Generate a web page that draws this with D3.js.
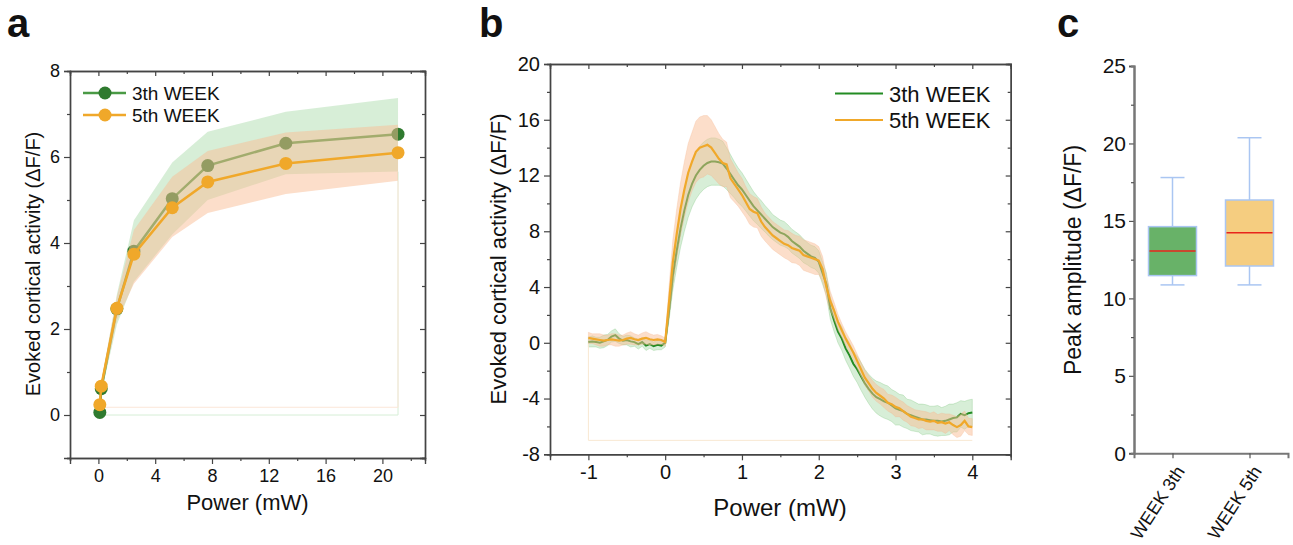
<!DOCTYPE html>
<html>
<head>
<meta charset="utf-8">
<script src="https://cdn.jsdelivr.net/npm/d3@7"></script>
<style>
body { margin: 0; background: #fff; }
svg { font-family: "Liberation Sans", Arial, sans-serif; }
</style>
</head>
<body>
<svg width="1293" height="545"></svg>
<script>
// ---------- panel a : evoked activity vs power (mean, sd band)
const powerA = [0.1, 0.2, 1.3, 2.5, 5.2, 7.7, 13.2, 21.1];
const week3A = [0.06, 0.61, 2.47, 3.81, 5.03, 5.80, 6.32, 6.53];
const week3ALow = [0.02, 0.50, 2.10, 3.10, 4.20, 5.00, 5.60, 5.66];
const week3AHigh = [0.10, 0.75, 2.80, 4.53, 5.87, 6.59, 7.05, 7.37];
const week5A = [0.24, 0.67, 2.48, 3.74, 4.82, 5.42, 5.85, 6.10];
const week5ALow = [0.18, 0.55, 2.20, 3.05, 4.14, 4.70, 5.14, 5.45];
const week5AHigh = [0.30, 0.78, 2.75, 4.30, 5.54, 6.14, 6.57, 6.75];
const baseA3 = 0, baseA5 = 0.18;   // closing edge of the filled areas

// ---------- panel b : time course (sampled every 0.05 from -1 to 4)
const timeB = d3.range(0, 101).map(i => -1 + i * 0.05);
const week3B = [
  0.05, 0.1, 0.05, 0.0, 0.1, 0.2, 0.45, 0.55, 0.3, 0.15,
  0.2, 0.1, 0.05, -0.1, 0.05, -0.2, -0.1, -0.25, -0.15, -0.2,
  0.0, 2.3, 4.8, 6.6, 8.2, 9.5, 10.6, 11.4, 12.0, 12.4,
  12.7, 12.9, 13.0, 13.0, 12.95, 12.85, 12.5, 12.1, 11.7, 11.3,
  11.0, 10.6, 10.2, 9.8, 9.5, 9.2, 8.9, 8.6, 8.3, 8.1,
  7.9, 7.8, 7.6, 7.3, 7.1, 6.9, 6.6, 6.4, 6.2, 6.1,
  5.8, 5.0, 4.2, 2.5, 1.6, 0.8, 0.3, -0.4, -0.9, -1.5,
  -1.9, -2.4, -2.9, -3.3, -3.65, -3.9, -4.05, -4.2, -4.3, -4.5,
  -4.7, -4.8, -4.9, -5.1, -5.2, -5.3, -5.4, -5.5, -5.5, -5.55,
  -5.6, -5.6, -5.65, -5.6, -5.5, -5.4, -5.35, -5.1, -5.2, -5.05,
  -5.0
];
const week3BSd = [
  0.35, 0.4, 0.35, 0.4, 0.45, 0.4, 0.4, 0.45, 0.35, 0.3,
  0.35, 0.4, 0.3, 0.35, 0.3, 0.35, 0.3, 0.3, 0.35, 0.3,
  0.3, 0.7, 1.0, 1.2, 1.35, 1.5, 1.6, 1.65, 1.7, 1.7,
  1.7, 1.7, 1.7, 1.7, 1.65, 1.6, 1.5, 1.4, 1.3, 1.25,
  1.2, 1.15, 1.1, 1.05, 1.0, 1.0, 0.95, 0.95, 0.9, 0.9,
  0.9, 0.9, 0.85, 0.85, 0.85, 0.85, 0.85, 0.8, 0.8, 0.8,
  0.8, 0.8, 0.8, 0.8, 0.8, 0.8, 0.85, 0.85, 0.9, 0.9,
  0.95, 1.0, 1.0, 1.05, 1.1, 1.15, 1.2, 1.2, 1.2, 1.15,
  1.2, 1.1, 1.15, 1.05, 1.1, 1.05, 1.0, 1.1, 1.05, 1.0,
  1.05, 1.1, 1.0, 1.05, 1.1, 1.0, 1.05, 0.95, 1.0, 0.95,
  0.95
];
const week5B = [
  0.35, 0.3, 0.25, 0.2, 0.15, 0.2, 0.25, 0.2, 0.15, 0.2,
  0.3, 0.35, 0.25, 0.2, 0.3, 0.35, 0.25, 0.2, 0.25, 0.2,
  0.05, 2.9, 5.8, 7.8, 9.6, 11.0, 12.2, 13.0, 13.7, 14.0,
  14.1, 14.2, 14.0, 13.6, 13.2, 12.9, 12.8, 11.8, 11.4, 11.0,
  10.6, 10.1, 9.6, 9.4, 9.3, 8.7, 8.3, 8.0, 7.7, 7.5,
  7.3, 7.1, 7.0, 6.8, 6.7, 6.6, 6.3, 6.2, 6.1, 6.0,
  5.9, 5.3, 4.0, 3.0, 2.3, 1.5, 0.9, 0.3, -0.2, -0.7,
  -1.3, -1.9, -2.5, -2.9, -3.3, -3.6, -3.8, -4.0, -4.3, -4.4,
  -4.6, -4.7, -4.9, -5.1, -5.3, -5.4, -5.5, -5.5, -5.6, -5.65,
  -5.6, -5.75, -5.7, -5.8, -5.7, -5.9, -6.05, -5.9, -5.6, -6.0,
  -6.05
];
const week5BSd = [
  0.4, 0.35, 0.4, 0.45, 0.4, 0.35, 0.4, 0.45, 0.4, 0.35,
  0.4, 0.45, 0.4, 0.35, 0.4, 0.45, 0.4, 0.35, 0.35, 0.3,
  0.3, 1.1, 1.6, 1.8, 1.9, 2.0, 2.1, 2.1, 2.2, 2.2,
  2.2, 2.1, 2.0, 1.9, 1.8, 1.7, 1.6, 1.4, 1.3, 1.2,
  1.2, 1.1, 1.1, 1.1, 1.05, 1.05, 1.0, 1.0, 1.0, 1.0,
  1.0, 1.0, 1.05, 1.05, 1.0, 1.05, 1.1, 1.1, 1.1, 1.1,
  1.0, 0.9, 0.8, 0.7, 0.6, 0.55, 0.5, 0.5, 0.5, 0.5,
  0.5, 0.5, 0.55, 0.55, 0.6, 0.6, 0.6, 0.65, 0.6, 0.65,
  0.7, 0.6, 0.65, 0.6, 0.65, 0.6, 0.65, 0.6, 0.65, 0.6,
  0.65, 0.6, 0.65, 0.7, 0.6, 0.7, 0.75, 0.8, 0.7, 0.6,
  0.6
];
const baseB = -7;   // closing edge of the filled area

// ---------- panel c : peak amplitude box plot
const groupsC = ['WEEK 3th', 'WEEK 5th'];
const boxC = [
  { min: 10.87, q1: 11.47, median: 13.06, q3: 14.63, max: 17.8 },
  { min: 10.87, q1: 12.09, median: 14.24, q3: 16.35, max: 20.37 }
];

const seriesNames = ['3th WEEK', '5th WEEK'];

const svg = d3.select('svg');
const green = '#238c23', greenMark = '#2f7a2f', greenLineA = '#4a9a45';
const orange = '#f0a82a';
const greenFill = 'rgba(140,205,140,0.35)', orangeFill = 'rgba(250,190,150,0.5)';
const axisColor = '#444';
const num = d => String(d);   // plain hyphen for negatives, like the original

// panel letters
[['a', 7], ['b', 479], ['c', 1057]].forEach(([t, x]) => {
  svg.append('text').attr('x', x).attr('y', 37).text(t)
    .attr('font-size', 40).attr('font-weight', 'bold').attr('fill', '#111');
});

// framed axes with ticks out on left/bottom and in on top/right
function frame(g, x, y, xMajor, xMinor, yMajor, yMinor, fs) {
  const [x0, x1] = x.range(), [y0, y1] = y.range();
  const style = s => {
    s.selectAll('path').attr('stroke', axisColor).attr('stroke-width', 1.4);
    s.selectAll('line').attr('stroke', axisColor).attr('stroke-width', 1.2);
    s.selectAll('text').attr('fill', '#111').attr('font-size', fs);
  };
  const add = (axis, tr) => g.append('g').attr('transform', tr).call(axis).call(style);
  add(d3.axisBottom(x).tickValues(xMajor).tickSize(6).tickPadding(5).tickFormat(num), `translate(0,${y0})`);
  add(d3.axisBottom(x).tickValues(xMinor).tickSize(3).tickFormat(''), `translate(0,${y0})`);
  add(d3.axisTop(x).tickValues(xMajor).tickSize(-5).tickFormat(''), `translate(0,${y1})`);
  add(d3.axisTop(x).tickValues(xMinor).tickSize(-3).tickFormat(''), `translate(0,${y1})`);
  add(d3.axisLeft(y).tickValues(yMajor).tickSize(6).tickPadding(4).tickFormat(num), `translate(${x0},0)`);
  add(d3.axisLeft(y).tickValues(yMinor).tickSize(3).tickFormat(''), `translate(${x0},0)`);
  add(d3.axisRight(y).tickValues(yMajor).tickSize(-5).tickFormat(''), `translate(${x1},0)`);
  add(d3.axisRight(y).tickValues(yMinor).tickSize(-3).tickFormat(''), `translate(${x1},0)`);
}

// ---------- panel a
{
  const x = d3.scaleLinear().domain([-2, 23]).range([70, 425]);
  const y = d3.scaleLinear().domain([-1, 8]).range([458, 71]);
  const g = svg.append('g');

  const band = (lo, hi) => d3.area()
    .x((d, i) => x(powerA[i])).y0((d, i) => y(lo[i])).y1((d, i) => y(hi[i]))(powerA);
  const line = vals => d3.line().x((d, i) => x(powerA[i])).y(d => y(d))(vals);
  const n = powerA.length - 1;
  const edge = (lo, base) => d3.line()([[x(powerA[1]), y(base)], [x(powerA[n]), y(base)], [x(powerA[n]), y(lo[n])]]);

  g.append('path').attr('d', band(week3ALow, week3AHigh)).attr('fill', greenFill);
  g.append('path').attr('d', edge(week3ALow, baseA3)).attr('fill', 'none').attr('stroke', '#d6eed6');
  g.append('path').attr('d', line(week3A)).attr('fill', 'none').attr('stroke', greenLineA).attr('stroke-width', 2.5);
  g.selectAll('.m3').data(week3A).join('circle')
    .attr('cx', (d, i) => x(powerA[i])).attr('cy', d => y(d)).attr('r', 6.5).attr('fill', greenMark);

  g.append('path').attr('d', band(week5ALow, week5AHigh)).attr('fill', orangeFill);
  g.append('path').attr('d', edge(week5ALow, baseA5)).attr('fill', 'none').attr('stroke', '#fbe6d8');
  g.append('path').attr('d', line(week5A)).attr('fill', 'none').attr('stroke', orange).attr('stroke-width', 2.5);
  g.selectAll('.m5').data(week5A).join('circle')
    .attr('cx', (d, i) => x(powerA[i])).attr('cy', d => y(d)).attr('r', 6.5).attr('fill', orange);

  frame(g, x, y, [0, 4, 8, 12, 16, 20], [-2, 2, 6, 10, 14, 18, 22], [0, 2, 4, 6, 8], [-1, 1, 3, 5, 7], 18);

  // legend
  seriesNames.forEach((name, i) => {
    const ly = 93 + i * 22;
    const lc = i === 0 ? greenLineA : orange, mc = i === 0 ? greenMark : orange;
    g.append('line').attr('x1', 83).attr('x2', 126).attr('y1', ly).attr('y2', ly).attr('stroke', lc).attr('stroke-width', 2.5);
    g.append('circle').attr('cx', 105).attr('cy', ly).attr('r', 6.5).attr('fill', mc);
    g.append('text').attr('x', 132).attr('y', ly + 7).text(name).attr('font-size', 19).attr('fill', '#111');
  });

  g.append('text').attr('x', 247.5).attr('y', 510).attr('text-anchor', 'middle')
    .attr('font-size', 22).attr('fill', '#111').text('Power (mW)');
  g.append('text').attr('transform', 'translate(40,264) rotate(-90)').attr('text-anchor', 'middle')
    .attr('font-size', 20).attr('fill', '#111').text('Evoked cortical activity (ΔF/F)');
}

// ---------- panel b
{
  const x = d3.scaleLinear().domain([-1.5, 4.5]).range([550, 1010.7]);
  const y = d3.scaleLinear().domain([-8, 20]).range([454.3, 64]);
  const g = svg.append('g');

  const band = (vals, sd) => d3.area()
    .x((d, i) => x(timeB[i])).y0((d, i) => y(vals[i] - sd[i])).y1((d, i) => y(vals[i] + sd[i]))(vals);
  const line = vals => d3.line().x((d, i) => x(timeB[i])).y(d => y(d))(vals);
  const n = timeB.length - 1;

  g.append('path').attr('d', band(week3B, week3BSd)).attr('fill', greenFill)
    .attr('stroke', 'rgba(110,190,110,0.35)').attr('stroke-width', 0.8);
  g.append('path').attr('d', line(week3B)).attr('fill', 'none').attr('stroke', green).attr('stroke-width', 2);

  g.append('path').attr('d', d3.line()([
      [x(timeB[0]), y(week5B[0] - week5BSd[0])], [x(timeB[0]), y(baseB)], [x(timeB[n]), y(baseB)]
    ])).attr('fill', 'none').attr('stroke', '#f9e8d2');
  g.append('path').attr('d', band(week5B, week5BSd)).attr('fill', orangeFill)
    .attr('stroke', 'rgba(245,180,140,0.35)').attr('stroke-width', 0.8);
  g.append('path').attr('d', line(week5B)).attr('fill', 'none').attr('stroke', orange).attr('stroke-width', 2.2);

  frame(g, x, y, [-1, 0, 1, 2, 3, 4], [-1.5, -0.5, 0.5, 1.5, 2.5, 3.5, 4.5],
    [-8, -4, 0, 4, 8, 12, 16, 20], [-6, -2, 2, 6, 10, 14, 18], 20);

  seriesNames.forEach((name, i) => {
    const ly = 93.5 + i * 26.5;
    g.append('line').attr('x1', 835).attr('x2', 883).attr('y1', ly).attr('y2', ly)
      .attr('stroke', i === 0 ? green : orange).attr('stroke-width', 2.2);
    g.append('text').attr('x', 889).attr('y', ly + 8).text(name).attr('font-size', 22).attr('fill', '#111');
  });

  g.append('text').attr('x', 780).attr('y', 516).attr('text-anchor', 'middle')
    .attr('font-size', 24).attr('fill', '#111').text('Power (mW)');
  g.append('text').attr('transform', 'translate(506,259) rotate(-90)').attr('text-anchor', 'middle')
    .attr('font-size', 22).attr('fill', '#111').text('Evoked cortical activity (ΔF/F)');
}

// ---------- panel c
{
  const x = d3.scalePoint().domain(groupsC).range([1134, 1288]).padding(0.5);
  const y = d3.scaleLinear().domain([0, 25]).range([453.3, 66]);
  const g = svg.append('g');
  const fills = ['#68b268', '#f5cd80'];
  const edgeC = '#aac6f2';
  const bw = 48;

  boxC.forEach((b, i) => {
    const cx = x(groupsC[i]);
    g.append('line').attr('x1', cx).attr('x2', cx).attr('y1', y(b.max)).attr('y2', y(b.q3)).attr('stroke', edgeC).attr('stroke-width', 1.5);
    g.append('line').attr('x1', cx).attr('x2', cx).attr('y1', y(b.q1)).attr('y2', y(b.min)).attr('stroke', edgeC).attr('stroke-width', 1.5);
    [b.max, b.min].forEach(v => g.append('line').attr('x1', cx - bw / 4).attr('x2', cx + bw / 4)
      .attr('y1', y(v)).attr('y2', y(v)).attr('stroke', edgeC).attr('stroke-width', 1.5));
    g.append('rect').attr('x', cx - bw / 2).attr('width', bw).attr('y', y(b.q3)).attr('height', y(b.q1) - y(b.q3))
      .attr('fill', fills[i]).attr('stroke', edgeC).attr('stroke-width', 1.5);
    g.append('line').attr('x1', cx - bw / 2 + 1).attr('x2', cx + bw / 2 - 1).attr('y1', y(b.median)).attr('y2', y(b.median))
      .attr('stroke', '#e8241c').attr('stroke-width', 1.5);
  });

  const ya = g.append('g').attr('transform', 'translate(1134,0)')
    .call(d3.axisLeft(y).tickValues([0, 5, 10, 15, 20, 25]).tickSize(5).tickPadding(3));
  const ym = g.append('g').attr('transform', 'translate(1134,0)')
    .call(d3.axisLeft(y).tickValues([2.5, 7.5, 12.5, 17.5, 22.5]).tickSize(3).tickFormat(''));
  const xa = g.append('g').attr('transform', 'translate(0,453.3)')
    .call(d3.axisBottom(x).tickSize(5).tickFormat(''));
  [ya, ym, xa].forEach(a => {
    a.selectAll('path').attr('stroke', '#777').attr('stroke-width', 2);
    a.selectAll('line').attr('stroke', '#555').attr('stroke-width', 1.2);
  });
  ya.selectAll('text').attr('font-size', 21).attr('fill', '#111');

  groupsC.forEach(name => {
    g.append('text').attr('transform', `translate(${x(name) + 13},471) rotate(-57)`)
      .attr('text-anchor', 'end').attr('font-size', 18).attr('fill', '#111').text(name);
  });

  g.append('text').attr('transform', 'translate(1081,260) rotate(-90)').attr('text-anchor', 'middle')
    .attr('font-size', 23).attr('fill', '#111').text('Peak amplitude (ΔF/F)');
}
</script>
</body>
</html>
